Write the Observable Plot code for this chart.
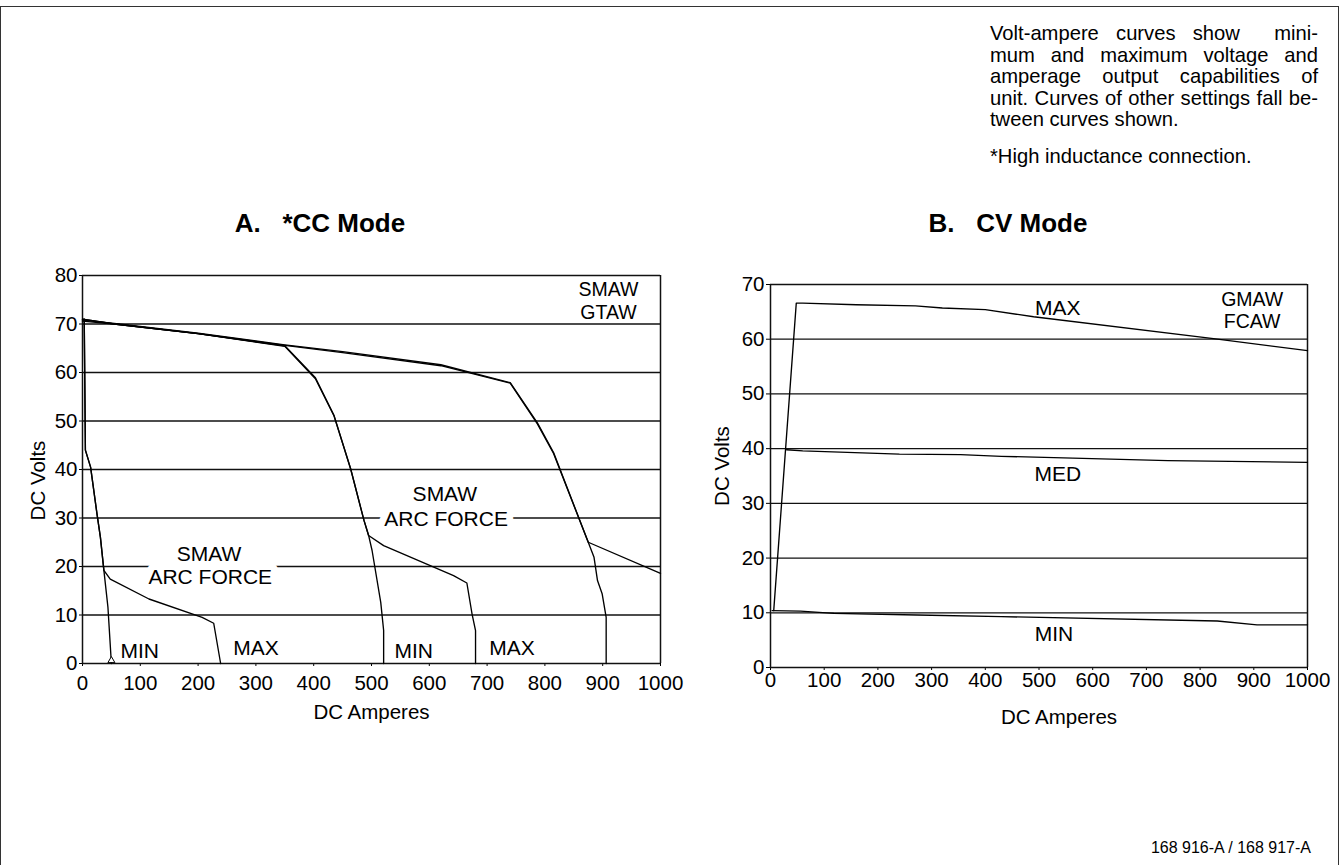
<!DOCTYPE html>
<html>
<head>
<meta charset="utf-8">
<script src="https://cdn.jsdelivr.net/npm/d3@7"></script>
<script src="https://cdn.jsdelivr.net/npm/@observablehq/plot@0.6"></script>
<style>
  body { margin: 0; background: #fff; font-family: "Liberation Sans", Arial, Helvetica, sans-serif; color: #000; }
  #page { position: relative; width: 1341px; height: 865px; overflow: hidden; background: #fff; }
  #border { position: absolute; left: 0; top: 6px; width: 1337px; height: 900px; border: 1.5px solid #333; border-bottom: none; }
  #note { position: absolute; left: 990px; top: 23px; width: 328px; font-size: 20.2px; line-height: 21.5px; }
  #note div { white-space: nowrap; }
  #note .j { text-align: justify; text-align-last: justify; }
  #note .p2 { margin-top: 15px; }
  .title { position: absolute; width: 320px; text-align: center; font-weight: bold; font-size: 26px; white-space: pre; line-height: 28px; }
  #caption { position: absolute; right: 30px; top: 839px; font-size: 16px; }
  .chart { position: absolute; }
  .chart svg { overflow: visible; }
</style>
</head>
<body>
<div id="page">
  <div id="border"></div>
  <div id="note">
    <div class="j">Volt-ampere curves show&nbsp; mini-</div>
    <div class="j">mum and maximum voltage and</div>
    <div class="j">amperage output capabilities of</div>
    <div class="j">unit. Curves of other settings fall be-</div>
    <div>tween curves shown.</div>
    <div class="p2">*High inductance connection.</div>
  </div>
  <div class="title" style="left:160px; top:209px;">A.   *CC Mode</div>
  <div class="title" style="left:848px; top:209px;">B.   CV Mode</div>
  <div class="chart" id="cc" style="left:0px; top:255px;"></div>
  <div class="chart" id="cv" style="left:690px; top:264px;"></div>
  <div id="caption">168 916-A / 168 917-A</div>
</div>
<script>
// ---------- tick values ----------
const ampTicks = [0, 100, 200, 300, 400, 500, 600, 700, 800, 900, 1000];
const ccVoltTicks = [0, 10, 20, 30, 40, 50, 60, 70, 80];
const cvVoltTicks = [0, 10, 20, 30, 40, 50, 60, 70];

// ---------- A. CC mode curves: [DC amperes, DC volts] ----------
const ccLowMin = [[3, 71], [5, 44], [14, 40.5], [25, 30.9], [31, 26], [37, 19.2], [44, 11.6], [50, 0]];
const ccLowMax = [[3, 71], [5, 44], [14, 40.5], [25, 30.9], [31, 26], [37, 19.2], [48, 17.4], [115, 13.3], [207, 9.5], [227, 8.3], [239, 0]];
const ccMidMin = [[0, 71], [55, 70], [200, 68], [350, 65.4], [403, 58.7], [435, 51.1], [464, 40.1], [487, 29.5], [495, 26.4], [501, 23.3], [516, 12.6], [521, 6.8], [521, 0]];
const ccMidMax = [[0, 71], [55, 70], [200, 68], [350, 65.5], [403, 58.9], [435, 51.2], [464, 40.1], [487, 29.5], [495, 26.4], [521, 24.3], [642, 18.1], [665, 16.6], [674, 10.2], [680, 6.8], [680, 0]];
const ccHighMin = [[0, 70.6], [55, 70], [200, 68], [350, 65.6], [450, 64.1], [620, 61.4], [740, 57.8], [787, 49.4], [815, 43.3], [875, 25.0], [885, 21.9], [891, 17.1], [899, 14.4], [906, 9.5], [906, 0]];
const ccHighMax = [[0, 70.8], [55, 70.1], [200, 68.1], [350, 65.7], [450, 64.3], [620, 61.6], [740, 57.9], [787, 49.6], [815, 43.5], [875, 25.0], [1000, 18.6]];
const ccEndMarker = [[50, 0.6]];

// ---------- B. CV mode curves ----------
const cvMax = [[6, 10.4], [48, 66.6], [60, 66.6], [160, 66.3], [270, 66.1], [320, 65.7], [400, 65.4], [490, 64.1], [825, 60.1], [1000, 57.9]];
const cvMed = [[30, 39.8], [60, 39.6], [240, 39.0], [354, 38.9], [430, 38.6], [740, 37.8], [1000, 37.5]];
const cvMin = [[3, 10.4], [56, 10.3], [118, 9.9], [273, 9.6], [430, 9.3], [832, 8.5], [906, 7.8], [1000, 7.8]];

// ---------- annotation labels (data coordinates) ----------
const ccHaloLabels = [
  {t: "SMAW", a: 219, v: 22.5}, {t: "ARC FORCE", a: 221, v: 17.7},
  {t: "SMAW", a: 627, v: 34.8}, {t: "ARC FORCE", a: 629, v: 29.7}
];
const ccLabels = [
  {t: "MIN", a: 99, v: 2.5}, {t: "MAX", a: 300, v: 3.2},
  {t: "MIN", a: 573, v: 2.5}, {t: "MAX", a: 743, v: 3.2}
];
const ccProcessLabel = [{t: "SMAW\nGTAW", a: 910, v: 74.9}];
const cvLabels = [
  {t: "MAX", a: 535, v: 65.7}, {t: "MED", a: 535, v: 35.3}, {t: "MIN", a: 528, v: 6.0}
];
const cvProcessLabel = [{t: "GMAW\nFCAW", a: 897, v: 65.4}];

const FONT = "Liberation Sans, Arial, Helvetica, sans-serif";
const ax = d => d[0], vy = d => d[1];
const edges = [ampTicks[0], ampTicks[ampTicks.length - 1]];

function curves(list) {
  return list.map(c => Plot.line(c, {x: ax, y: vy, stroke: "#000", strokeWidth: 1.35, strokeLinejoin: "round"}));
}

const cc = Plot.plot({
  width: 680, height: 478,
  marginLeft: 82, marginRight: 20, marginTop: 20, marginBottom: 70,
  style: {fontFamily: FONT, fontSize: "20.5px", color: "#000", background: "transparent", overflow: "visible"},
  x: {domain: edges, ticks: ampTicks, tickSize: 3, tickPadding: 9, tickFormat: d => String(d), label: null},
  y: {domain: [0, 80], ticks: ccVoltTicks, tickSize: 3, tickPadding: 2, tickFormat: d => String(d), label: null},
  marks: [
    Plot.ruleY(ccVoltTicks, {stroke: "#111", strokeWidth: 1.3}),
    Plot.ruleX(edges, {stroke: "#111", strokeWidth: 1.5}),
    ...curves([ccLowMin, ccLowMax, ccMidMin, ccMidMax, ccHighMin, ccHighMax]),
    Plot.dot(ccEndMarker, {x: ax, y: vy, symbol: "triangle", r: 2.6, stroke: "#000", fill: "#fff", strokeWidth: 1}),
    Plot.text(ccHaloLabels, {x: "a", y: "v", text: "t", fontSize: 21, fill: "#000", stroke: "#fff", strokeWidth: 14, strokeLinejoin: "round"}),
    Plot.text(ccLabels, {x: "a", y: "v", text: "t", fontSize: 21, fill: "#000"}),
    Plot.text(ccProcessLabel, {x: "a", y: "v", text: "t", fontSize: 19.5, lineHeight: 1.17, fill: "#000"}),
    Plot.text(["DC Volts"], {text: d => d, frameAnchor: "left", textAnchor: "middle", dx: -44, dy: 11, rotate: -90, fontSize: 20.5, fill: "#000"}),
    Plot.text(["DC Amperes"], {text: d => d, frameAnchor: "bottom", textAnchor: "middle", dy: 55, fontSize: 20.5, fill: "#000"})
  ]
});
document.getElementById("cc").appendChild(cc);

const cv = Plot.plot({
  width: 651, height: 473,
  marginLeft: 80, marginRight: 34, marginTop: 20, marginBottom: 70,
  style: {fontFamily: FONT, fontSize: "20.5px", color: "#000", background: "transparent", overflow: "visible"},
  x: {domain: edges, ticks: ampTicks, tickSize: 3, tickPadding: 2, tickFormat: d => String(d), label: null},
  y: {domain: [0, 70], ticks: cvVoltTicks, tickSize: 4, tickPadding: 2, tickFormat: d => String(d), label: null},
  marks: [
    Plot.ruleY(cvVoltTicks, {stroke: "#111", strokeWidth: 1.3}),
    Plot.ruleX(edges, {stroke: "#111", strokeWidth: 1.5}),
    ...curves([cvMax, cvMed, cvMin]),
    Plot.text(cvLabels, {x: "a", y: "v", text: "t", fontSize: 21, fill: "#000"}),
    Plot.text(cvProcessLabel, {x: "a", y: "v", text: "t", fontSize: 19.5, lineHeight: 1.17, fill: "#000"}),
    Plot.text(["DC Volts"], {text: d => d, frameAnchor: "left", textAnchor: "middle", dx: -48, dy: -10, rotate: -90, fontSize: 20.5, fill: "#000"}),
    Plot.text(["DC Amperes"], {text: d => d, frameAnchor: "bottom", textAnchor: "middle", dx: 20, dy: 56, fontSize: 20.5, fill: "#000"})
  ]
});
document.getElementById("cv").appendChild(cv);
</script>
</body>
</html>
